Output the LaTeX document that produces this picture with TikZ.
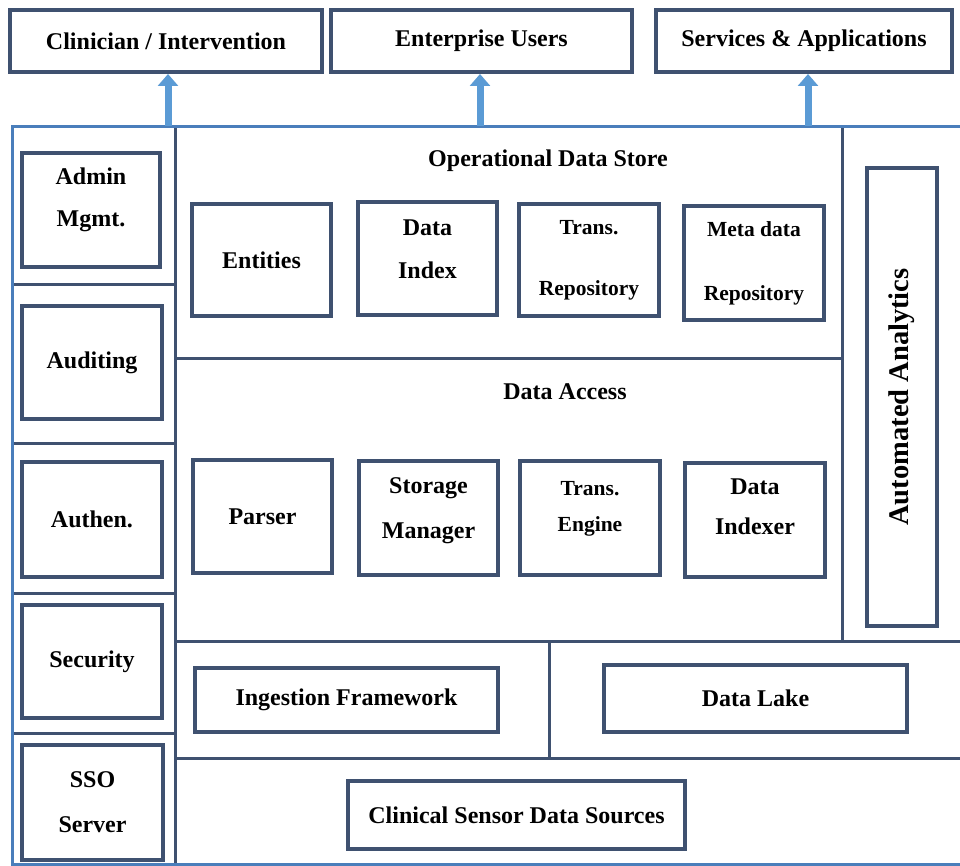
\documentclass[tikz,border=0pt]{standalone}
\usepackage{fontspec}
\setmainfont{Liberation Serif}
\usetikzlibrary{arrows.meta}
\definecolor{boxline}{HTML}{3F5170}
\definecolor{frameblue}{HTML}{4A7EBB}
\definecolor{arrowblue}{HTML}{5B9BD5}
\tikzset{
  blk/.style={draw=boxline, line width=4pt, inner sep=0pt, align=center,
    font=\fontsize{24}{28}\selectfont\bfseries},
  sml/.style={font=\fontsize{21.5}{25}\selectfont\bfseries},
  title/.style={font=\fontsize{24}{28}\selectfont\bfseries},
  divline/.style={draw=boxline, line width=3pt},
  upflow/.style={draw=arrowblue, line width=7pt, -{Triangle[width=20pt,length=12pt]}}
}
\begin{document}
\begin{tikzpicture}[x=1pt,y=-1pt]
  \useasboundingbox (0,0) rectangle (960,866);
  % outer frame and dividers
  \draw[divline] (175,127)--(175,864);
  \draw[divline] (12,285)--(175,285) (12,443)--(175,443) (12,593)--(175,593) (12,733)--(175,733);
  \draw[divline] (175,358)--(842,358);
  \draw[divline] (175,641)--(962,641) (175,758)--(962,758);
  \draw[divline] (842,127)--(842,641);
  \draw[divline] (549,641)--(549,758);
  \draw[frameblue,line width=3pt] (12,127) rectangle (962,864);
  % users on top
  \node[blk,minimum width=312,minimum height=62] (clin) at (166,41) {Clinician / Intervention};
  \node[blk,minimum width=301,minimum height=62] (ent) at (481.5,41) {Enterprise Users};
  \node[blk,minimum width=296,minimum height=62] (svc) at (804,41) {Services \& Applications};
  \coordinate (f1) at (168,126);
  \coordinate (f2) at (480,126);
  \coordinate (f3) at (808,126);
  \draw[upflow] (f1)--(f1 |- clin.south);
  \draw[upflow] (f2)--(f2 |- ent.south);
  \draw[upflow] (f3)--(f3 |- svc.south);
  % left column
  \node[blk,minimum width=138,minimum height=114] (admin) at (91,210) {Admin\\[14pt]Mgmt.\\[-3pt]\mbox{}};
  \node[blk,minimum width=140,minimum height=113] (audit) at (92,362.5) {Auditing};
  \node[blk,minimum width=140,minimum height=115] (authen) at (92,519.5) {Authen.};
  \node[blk,minimum width=140,minimum height=113] (secur) at (92,661.5) {Security};
  \node[blk,minimum width=141,minimum height=115] (sso) at (92.5,802.5) {SSO\\[17pt]Server};
  % operational data store
  \node[title] (ods) at (548,161) {Operational Data Store};
  \node[blk,minimum width=139,minimum height=112] (entities) at (261.5,260) {Entities};
  \node[blk,minimum width=139,minimum height=113] (dindex) at (427.5,258.5) {Data\\[15pt]Index\\[-10pt]\mbox{}};
  \node[blk,sml,minimum width=140,minimum height=112] (trepo) at (589,260) {Trans.\\[36pt]Repository};
  \node[blk,sml,minimum width=140,minimum height=114] (mrepo) at (754,263) {Meta data\\[39pt]Repository};
  % data access
  \node[title] (dacc) at (565,392) {Data Access};
  \node[blk,minimum width=139,minimum height=113] (parser) at (262.5,516.5) {Parser};
  \node[blk,minimum width=139,minimum height=114] (storage) at (428.5,518) {Storage\\[17pt]Manager\\[-9pt]\mbox{}};
  \node[blk,sml,minimum width=140,minimum height=114] (tengine) at (590,518) {Trans.\\[11pt]Engine\\[-2pt]\mbox{}};
  \node[blk,minimum width=140,minimum height=114] (indexer) at (755,520) {Data\\[12pt]Indexer\\[-2pt]\mbox{}};
  % analytics column
  \node[blk,minimum width=70,minimum height=458] (analytics) at (902,397) {};
  \node[rotate=90,font=\fontsize{28.5}{33}\selectfont\bfseries] (antext) at (analytics.center) {Automated Analytics};
  % lower rows
  \node[blk,minimum width=303,minimum height=64] (ingest) at (346.5,700) {Ingestion Framework};
  \node[blk,minimum width=303,minimum height=67] (lake) at (755.5,698.5) {Data Lake};
  \node[blk,minimum width=337,minimum height=68] (sensor) at (516.5,815) {Clinical Sensor Data Sources};
\end{tikzpicture}
\end{document}
